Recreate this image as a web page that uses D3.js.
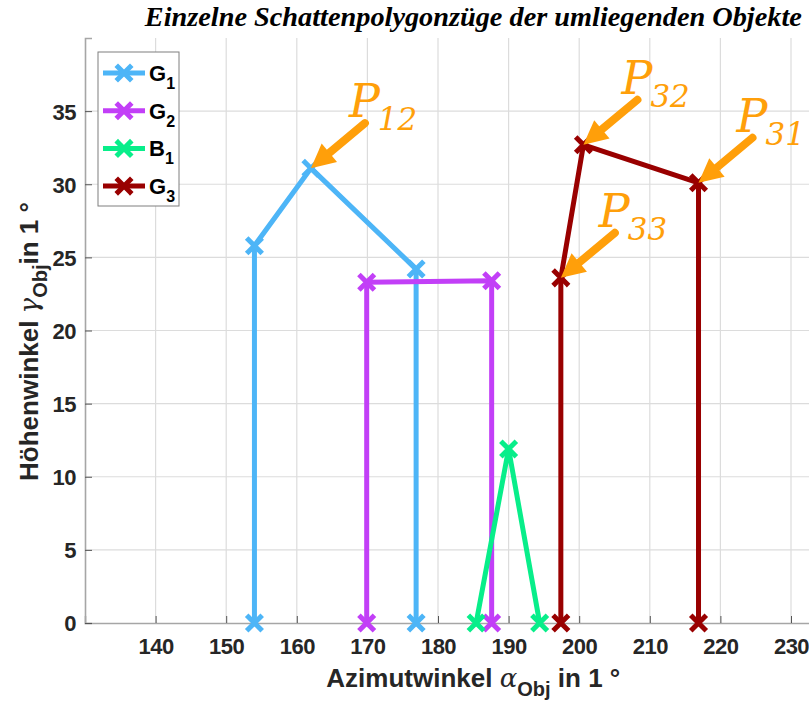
<!DOCTYPE html>
<html>
<head>
<meta charset="utf-8">
<script src="https://cdn.jsdelivr.net/npm/d3@7"></script>
<style>
  body { margin: 0; background: #fff; }
  svg { display: block; }
</style>
</head>
<body>
<div id="chart"></div>
<script>
// tick values
const xTicks = [140, 150, 160, 170, 180, 190, 200, 210, 220, 230];
const yTicks = [0, 5, 10, 15, 20, 25, 30, 35];

// shadow polygon series (azimuth / elevation in degrees)
const seriesNames = ['G1', 'G2', 'B1', 'G3'];
const g1X = [154, 154, 162, 176.9, 176.9];
const g1Y = [0, 25.8, 31.1, 24.2, 0];
const g2X = [169.9, 169.9, 187.6, 187.6];
const g2Y = [0, 23.3, 23.4, 0];
const b1X = [185.4, 190, 194.4];
const b1Y = [0, 11.9, 0];
const g3X = [197.4, 197.4, 200.6, 216.9, 216.9];
const g3Y = [0, 23.6, 32.7, 30.1, 0];

// annotated points: [series index, point index, subscript]
const annotations = [[0, 2, '12'], [3, 2, '32'], [3, 3, '31'], [3, 1, '33']];

const colors = ['#4db5f7', '#c23ff7', '#08ee8a', '#990000'];
const arrowColor = '#ff9f0a';

const allX = [g1X, g2X, b1X, g3X];
const allY = [g1Y, g2Y, b1Y, g3Y];
const series = seriesNames.map((name, i) => ({
  name: name,
  color: colors[i],
  points: allX[i].map((x, j) => ({x: x, y: allY[i][j]}))
}));

const width = 809, height = 701;
const margin = {left: 85, top: 38, bottom: 78};

const svg = d3.select('#chart').append('svg')
  .attr('width', width)
  .attr('height', height);

const x = d3.scaleLinear().domain([130, 240]).range([margin.left, margin.left + 110 * 7.06]);
const y = d3.scaleLinear().domain([0, 40]).range([height - margin.bottom, margin.top]);

const plotRight = x(240);

// grid
const grid = svg.append('g');
grid.selectAll('.vg').data(xTicks).enter().append('line')
  .attr('x1', d => x(d)).attr('x2', d => x(d))
  .attr('y1', y(0)).attr('y2', y(40))
  .attr('stroke', '#dcdcdc').attr('stroke-width', 1.2);
grid.selectAll('.hg').data(yTicks.filter(d => d > 0)).enter().append('line')
  .attr('x1', x(130)).attr('x2', plotRight)
  .attr('y1', d => y(d)).attr('y2', d => y(d))
  .attr('stroke', '#dcdcdc').attr('stroke-width', 1.2);

// axes
const xAxis = d3.axisBottom(x).tickValues(xTicks).tickSize(-7).tickPadding(15);
const yAxis = d3.axisLeft(y).tickValues(yTicks).tickSize(-7).tickPadding(9);

const gx = svg.append('g')
  .attr('transform', `translate(0, ${y(0)})`)
  .call(xAxis);
const gy = svg.append('g')
  .attr('transform', `translate(${x(130)}, 0)`)
  .call(yAxis);

[gx, gy].forEach(g => {
  g.select('.domain').attr('stroke', '#a6a6a6').attr('stroke-width', 1.6);
  g.selectAll('.tick line').attr('stroke', '#555').attr('stroke-width', 1);
  g.selectAll('.tick text')
    .attr('fill', '#262626')
    .style('font-family', 'Liberation Sans, Arial, sans-serif')
    .style('font-weight', 'bold')
    .style('font-size', '22px')
    .style('letter-spacing', '-0.5px');
});
gx.selectAll('.tick text').attr('dy', '0.71em');
gy.selectAll('.tick text').attr('dy', '0.36em');

// axis titles
const labelFont = 'Liberation Sans, Arial, sans-serif';
const xLabel = svg.append('text')
  .attr('x', (x(130) + plotRight) / 2)
  .attr('y', 687)
  .attr('text-anchor', 'middle')
  .attr('fill', '#262626')
  .style('font-family', labelFont)
  .style('font-weight', 'bold')
  .style('font-size', '26px');
xLabel.append('tspan').text('Azimutwinkel ');
xLabel.append('tspan').text('α').style('font-family', 'DejaVu Serif, serif').style('font-style', 'italic').style('font-weight', 'normal');
xLabel.append('tspan').text('Obj').attr('dy', 9).style('font-size', '20px');
xLabel.append('tspan').text(' in 1 °').attr('dy', -9);

const yLabel = svg.append('text')
  .attr('transform', `translate(38, ${(y(0) + y(40)) / 2 + 11}) rotate(-90)`)
  .attr('text-anchor', 'middle')
  .attr('fill', '#262626')
  .style('font-family', labelFont)
  .style('font-weight', 'bold')
  .style('font-size', '26px');
yLabel.append('tspan').text('Höhenwinkel ');
yLabel.append('tspan').text('γ').style('font-family', 'DejaVu Serif, serif').style('font-style', 'italic').style('font-weight', 'normal');
yLabel.append('tspan').text('Obj').attr('dy', 9).style('font-size', '20px');
yLabel.append('tspan').text('in 1 °').attr('dy', -9);

// title
svg.append('text')
  .attr('x', (x(130) + plotRight) / 2)
  .attr('y', 26)
  .attr('text-anchor', 'middle')
  .attr('fill', '#000')
  .attr('textLength', 657)
  .attr('lengthAdjust', 'spacingAndGlyphs')
  .style('font-family', 'Liberation Serif, Times New Roman, serif')
  .style('font-weight', 'bold')
  .style('font-style', 'italic')
  .style('font-size', '28px')
  .text('Einzelne Schattenpolygonzüge der umliegenden Objekte');

// series
const line = d3.line().x(d => x(d.x)).y(d => y(d.y));
const crossPath = s => `M${-s},${-s}L${s},${s}M${-s},${s}L${s},${-s}`;

series.forEach(s => {
  const g = svg.append('g');
  g.append('path')
    .attr('d', line(s.points))
    .attr('fill', 'none')
    .attr('stroke', s.color)
    .attr('stroke-width', 5)
    .attr('stroke-linejoin', 'round');
  g.selectAll('.m').data(s.points).enter().append('path')
    .attr('transform', d => `translate(${x(d.x)}, ${y(d.y)})`)
    .attr('d', crossPath(6))
    .attr('stroke', s.color)
    .attr('stroke-width', 5)
    .attr('stroke-linecap', 'square');
});

// annotation arrows
const tailOffset = [54, -45];
annotations.forEach(a => {
  const p = series[a[0]].points[a[1]];
  const tipX = x(p.x), tipY = y(p.y);
  const tailX = tipX + tailOffset[0], tailY = tipY + tailOffset[1];
  const dx = tipX - tailX, dy = tipY - tailY;
  const len = Math.sqrt(dx * dx + dy * dy);
  const ux = dx / len, uy = dy / len;
  const headLen = 24, headW = 12;
  const bx = tipX - ux * headLen, by = tipY - uy * headLen;

  svg.append('line')
    .attr('x1', tailX).attr('y1', tailY)
    .attr('x2', bx + ux * 2).attr('y2', by + uy * 2)
    .attr('stroke', arrowColor)
    .attr('stroke-width', 8)
    .attr('stroke-linecap', 'round');
  svg.append('path')
    .attr('d', `M${tipX},${tipY}L${bx - uy * headW},${by + ux * headW}L${bx + uy * headW},${by - ux * headW}Z`)
    .attr('fill', arrowColor);

  const t = svg.append('text')
    .attr('x', tailX - 16)
    .attr('y', tailY - 6)
    .attr('fill', arrowColor)
    .style('font-family', 'DejaVu Serif, serif')
    .style('font-style', 'italic')
    .style('font-size', '46px');
  t.append('tspan').text('P');
  t.append('tspan').text(a[2]).attr('dy', 13).attr('dx', -2).style('font-size', '31px');
});

// legend
const legend = svg.append('g').attr('transform', 'translate(98, 52)');
legend.append('rect')
  .attr('width', 81).attr('height', 154)
  .attr('fill', '#fff')
  .attr('stroke', '#7f7f7f')
  .attr('stroke-width', 1);
series.forEach((s, i) => {
  const row = legend.append('g').attr('transform', `translate(0, ${21 + i * 37.7})`);
  row.append('line')
    .attr('x1', 5).attr('x2', 47)
    .attr('stroke', s.color).attr('stroke-width', 5);
  row.append('path')
    .attr('transform', 'translate(26, 0)')
    .attr('d', crossPath(6))
    .attr('stroke', s.color).attr('stroke-width', 5)
    .attr('stroke-linecap', 'square');
  const t = row.append('text')
    .attr('x', 51).attr('y', 8)
    .attr('fill', '#000')
    .style('font-family', labelFont)
    .style('font-weight', 'bold')
    .style('font-size', '22px');
  t.append('tspan').text(s.name[0]);
  t.append('tspan').text(s.name.slice(1)).attr('dy', 8).style('font-size', '16px');
});
</script>
</body>
</html>
